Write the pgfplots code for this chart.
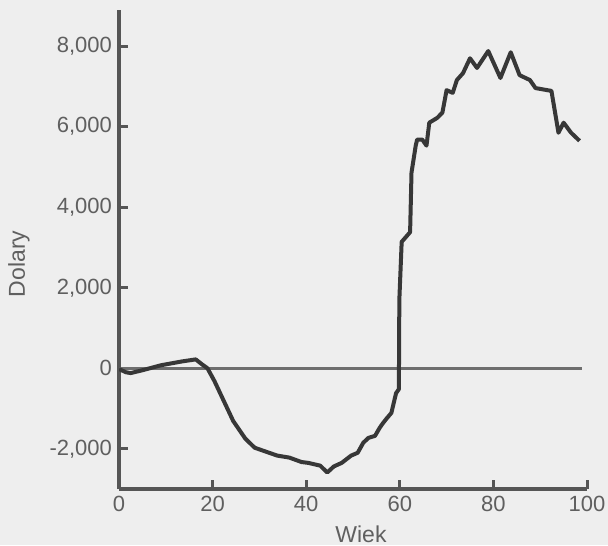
\documentclass[border=0pt]{standalone}
\usepackage{pgfplots}
\pgfplotsset{compat=1.18}
\usepackage{fontspec}
\setmainfont{Liberation Sans}
\definecolor{bgcol}{RGB}{238,238,238}
\definecolor{axcol}{RGB}{85,85,85}
\definecolor{txtcol}{RGB}{95,95,95}
\definecolor{curvecol}{RGB}{55,55,55}
\definecolor{zerocol}{RGB}{110,110,110}
\begin{document}
\begin{tikzpicture}
\fill[bgcol] (-59.5pt,-28pt) rectangle (244.5pt,244.5pt);
\begin{axis}[
    scale only axis,
    width=234pt, height=239.5pt,
    xmin=0, xmax=100,
    ymin=-3000, ymax=8900,
    axis x line*=bottom, axis y line*=left,
    x axis line style={draw=axcol, line width=2pt},
    y axis line style={draw=axcol, line width=2pt},
    xtick={0,20,40,60,80,100},
    ytick={-2000,0,2000,4000,6000,8000},
    xtick pos=left, ytick pos=left,
    tick align=inside,
    every tick/.append style={axcol, line width=1.5pt},
    tick label style={font=\fontsize{11}{13}\selectfont, text=txtcol,
        /pgf/number format/1000 sep={,},
        /pgf/number format/assume math mode=true},
    xlabel={Wiek}, ylabel={Dolary},
    label style={font=\fontsize{11.5}{13}\selectfont, text=txtcol},
    xlabel style={at={(axis description cs:0.517,-0.1127)}, anchor=base},
    ylabel style={at={(axis description cs:-0.2137,0.47)}, anchor=center},
]
\addplot[zerocol, line width=1.5pt] coordinates {(0,0) (99,0)};
\addplot[curvecol, line width=2pt, line join=round] coordinates {
(0,-20) (1.5,-100) (2.5,-120) (5,-50) (9,75) (13.5,170) (16.4,220) (17.7,100)
(18.9,0) (20.4,-320) (22.4,-815) (24.4,-1310) (27,-1750) (29,-1975)
(33.8,-2170) (36.4,-2220) (39,-2330) (40.4,-2350) (43,-2420) (44.5,-2590)
(45.9,-2440) (47.6,-2350) (49.6,-2170) (51,-2100) (52.2,-1850) (53.3,-1730)
(54.7,-1680) (55.7,-1480) (56.3,-1380) (57.1,-1260) (58.2,-1110) (58.8,-815)
(59.2,-620) (59.8,-520) (59.9,1700) (60.4,3140) (62.2,3380) (62.5,4860)
(63.4,5530) (63.7,5680) (64.8,5680) (65.7,5530) (66.3,6100) (68,6220)
(69.1,6350) (70,6910) (71.3,6840) (72.2,7160) (73.5,7330) (75,7700)
(76.5,7460) (78.9,7880) (81.5,7210) (83.7,7850) (85.6,7280) (87.8,7160)
(89,6960) (92.4,6890) (93.9,5850) (95,6100) (96.6,5850) (98.4,5650)
};
\end{axis}
\pgfresetboundingbox
\path (-59.5pt,-28pt) rectangle (244.5pt,244.5pt);
\end{tikzpicture}
\end{document}
